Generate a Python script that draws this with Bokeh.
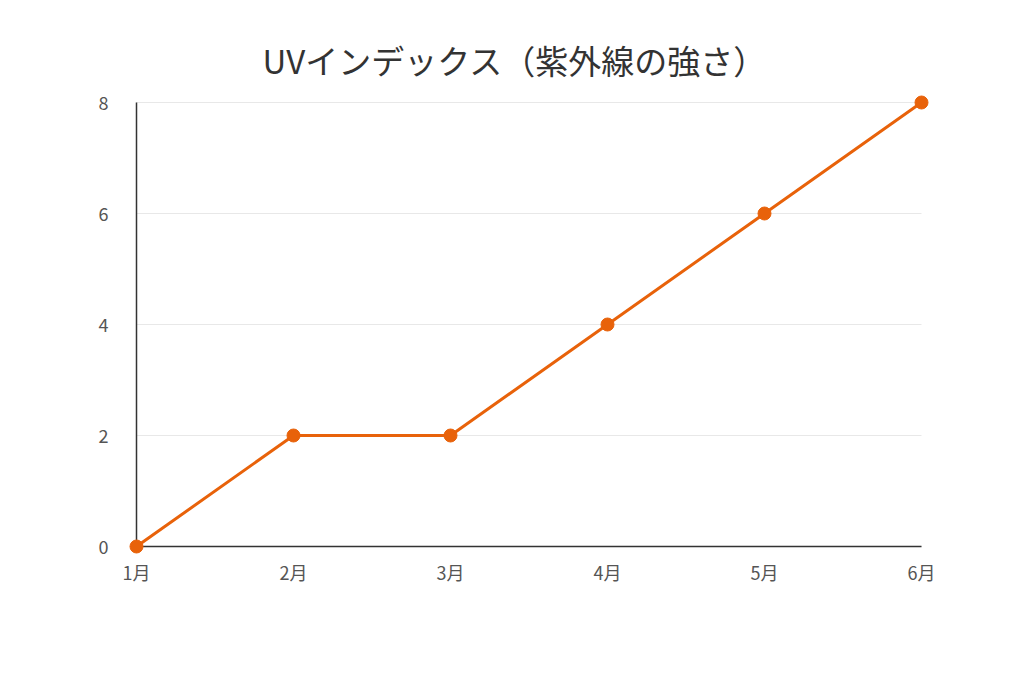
from bokeh.plotting import figure
from bokeh.embed import file_html
from bokeh.resources import INLINE
from bokeh.models import FixedTicker, Range1d

months = ["1月", "2月", "3月", "4月", "5月", "6月"]
uv_index = [0, 2, 2, 4, 6, 8]
y_ticks = [0, 2, 4, 6, 8]

FONT = "Noto Sans CJK JP"
COLOR = "#E8620A"

xs = list(range(len(months)))
x_min, x_max = 0, len(months) - 1
y_min, y_max = 0, 8
# small pad so markers at the edges are not clipped (about 8px)
x_pad = (x_max - x_min) * 8 / 785
y_pad = (y_max - y_min) * 8 / 444

p = figure(width=1008, height=667, output_backend="svg", toolbar_location=None,
           x_range=Range1d(x_min - x_pad, x_max + x_pad),
           y_range=Range1d(y_min - y_pad, y_max + y_pad),
           title="UVインデックス（紫外線の強さ）")
p.min_border_left = 128
p.min_border_right = 79
p.min_border_top = 94
p.min_border_bottom = 113
p.outline_line_color = None
p.background_fill_color = "white"
p.border_fill_color = "white"

p.title.text_font = FONT
p.title.text_font_size = "33px"
p.title.text_font_style = "normal"
p.title.text_color = "#333333"
p.title.align = "left"
p.title.offset = 134
p.title.standoff = 22

# grid lines (horizontal) and axis lines drawn as segments over the data extent
p.segment(x0=[x_min] * len(y_ticks), y0=y_ticks, x1=[x_max] * len(y_ticks), y1=y_ticks,
          line_color="#e8e8e8", line_width=1)
p.segment(x0=[x_min], y0=[y_min], x1=[x_min], y1=[y_max], line_color="#333333", line_width=1.5)
p.segment(x0=[x_min], y0=[y_min], x1=[x_max], y1=[y_min], line_color="#333333", line_width=1.5)

p.line(xs, uv_index, line_color=COLOR, line_width=3)
p.scatter(xs, uv_index, size=13, fill_color=COLOR, line_color=COLOR)

for ax in (p.xaxis[0], p.yaxis[0]):
    ax.major_label_text_font = FONT
    ax.major_label_text_font_size = "18px"
    ax.major_label_text_color = "#555555"
    ax.major_tick_line_color = None
    ax.minor_tick_line_color = None
    ax.axis_line_color = None

p.xaxis[0].ticker = FixedTicker(ticks=xs)
p.xaxis[0].major_label_overrides = {i: m for i, m in zip(xs, months)}
p.yaxis[0].ticker = FixedTicker(ticks=y_ticks)
p.yaxis[0].major_label_standoff = 14
p.xaxis[0].major_label_standoff = -2

p.xgrid.grid_line_color = None
p.ygrid.grid_line_color = None

open("out.html", "w").write(file_html(p, INLINE))
